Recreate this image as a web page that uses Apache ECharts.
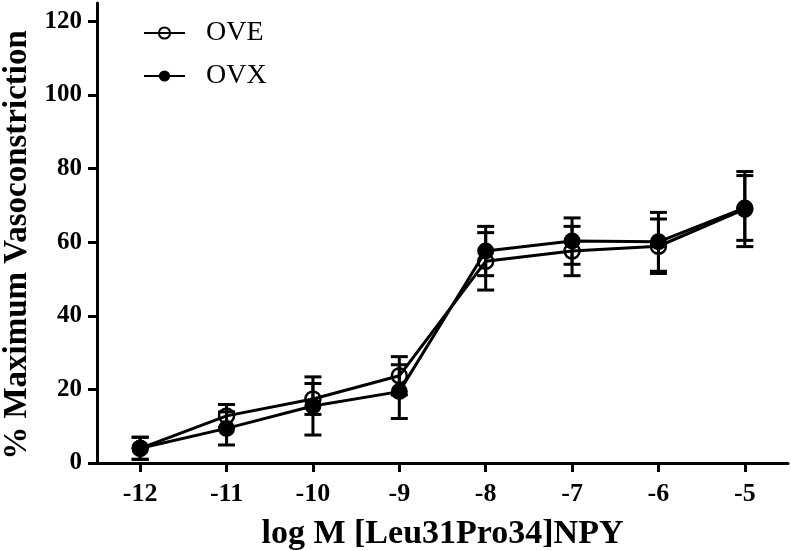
<!DOCTYPE html>
<html><head><meta charset="utf-8">
<script src="https://cdn.jsdelivr.net/npm/echarts@6/dist/echarts.min.js"></script>
<style>html,body{margin:0;padding:0;background:#fff}#c{width:791px;height:551px}</style>
</head><body><div id="c"></div>
<script>
const xValues = [-12, -11, -10, -9, -8, -7, -6, -5];
const oveMean = [4.0, 12.8, 17.4, 23.7, 54.8, 57.6, 58.9, 69.0];
const oveErr  = [3.0, 3.1, 4.2, 5.2, 7.8, 6.7, 7.4, 10.2];
const ovxMean = [4.0, 9.4, 15.5, 19.4, 57.6, 60.3, 60.1, 69.3];
const ovxErr  = [3.0, 4.5, 7.9, 7.3, 6.7, 6.3, 8.0, 8.8];
const yTicks = [0, 20, 40, 60, 80, 100, 120];
const xTitle = 'log M [Leu31Pro34]NPY';
const yTitle = '% Maximum Vasoconstriction';

const font = '"Liberation Serif", "Times New Roman", serif';
function pts(m){ return xValues.map((x,i)=>[x,m[i]]); }
function errs(m,e){ return xValues.map((x,i)=>[x,m[i]-e[i],m[i]+e[i]]); }
function errRender(params, api){
  const x = api.value(0), lo = api.value(1), hi = api.value(2);
  const pLo = api.coord([x, Math.max(lo, 0)]);
  const pHi = api.coord([x, hi]);
  const w = 8.5;
  const st = {stroke:'#000', lineWidth:3};
  const children = [
    {type:'line', shape:{x1:pLo[0],y1:pLo[1],x2:pHi[0],y2:pHi[1]}, style:st},
    {type:'line', shape:{x1:pHi[0]-w,y1:pHi[1],x2:pHi[0]+w,y2:pHi[1]}, style:st}
  ];
  if (lo > 0) children.push({type:'line', shape:{x1:pLo[0]-w,y1:pLo[1],x2:pLo[0]+w,y2:pLo[1]}, style:st});
  return {type:'group', children};
}
const chart = echarts.init(document.getElementById('c'));
chart.setOption({
  animation:false,
  grid:{left:97, right:3, top:3, bottom:88, containLabel:false, outerBoundsMode:'none'},
  legend:{
    data:['OVE','OVX'], orient:'vertical', left:138, top:14, itemGap:15,
    itemWidth:41, itemHeight:14,
    textStyle:{fontFamily:font, fontSize:28, color:'#000', padding:[0,0,0,16]}
  },
  xAxis:{
    type:'value', min:-12.5, max:-4.5,
    name:xTitle, nameLocation:'middle', nameGap:54,
    nameTextStyle:{fontFamily:font, fontSize:34, fontWeight:'bold', color:'#000'},
    axisLine:{onZero:false, lineStyle:{color:'#000', width:3}},
    axisTick:{customValues:xValues, length:9, lineStyle:{color:'#000', width:3}},
    axisLabel:{customValues:xValues, fontFamily:font, fontSize:26, fontWeight:'bold', color:'#000', margin:18},
    splitLine:{show:false}
  },
  yAxis:{
    type:'value', min:0, max:125,
    name:yTitle, nameLocation:'middle', nameGap:63, nameRotate:90,
    nameTextStyle:{fontFamily:font, fontSize:33, fontWeight:'bold', color:'#000', padding:[0,24,0,0]},
    axisLine:{show:true, lineStyle:{color:'#000', width:3}},
    axisTick:{show:true, customValues:yTicks, length:9, lineStyle:{color:'#000', width:3}},
    axisLabel:{customValues:yTicks, fontFamily:font, fontSize:25, fontWeight:'bold', color:'#000', margin:15},
    splitLine:{show:false}
  },
  series:[
    {type:'custom', name:'OVE err', renderItem:errRender, data:errs(oveMean,oveErr), z:1},
    {type:'custom', name:'OVX err', renderItem:errRender, data:errs(ovxMean,ovxErr), z:1},
    {type:'line', name:'OVE', data:pts(oveMean), symbol:'circle', symbolSize:15,
     lineStyle:{color:'#000', width:3},
     itemStyle:{color:'rgba(255,255,255,0)', borderColor:'#000', borderWidth:2.5}, z:3},
    {type:'line', name:'OVX', data:pts(ovxMean), symbol:'circle', symbolSize:17,
     lineStyle:{color:'#000', width:3},
     itemStyle:{color:'#000', borderColor:'#000', borderWidth:0}, z:4}
  ]
});
</script></body></html>
